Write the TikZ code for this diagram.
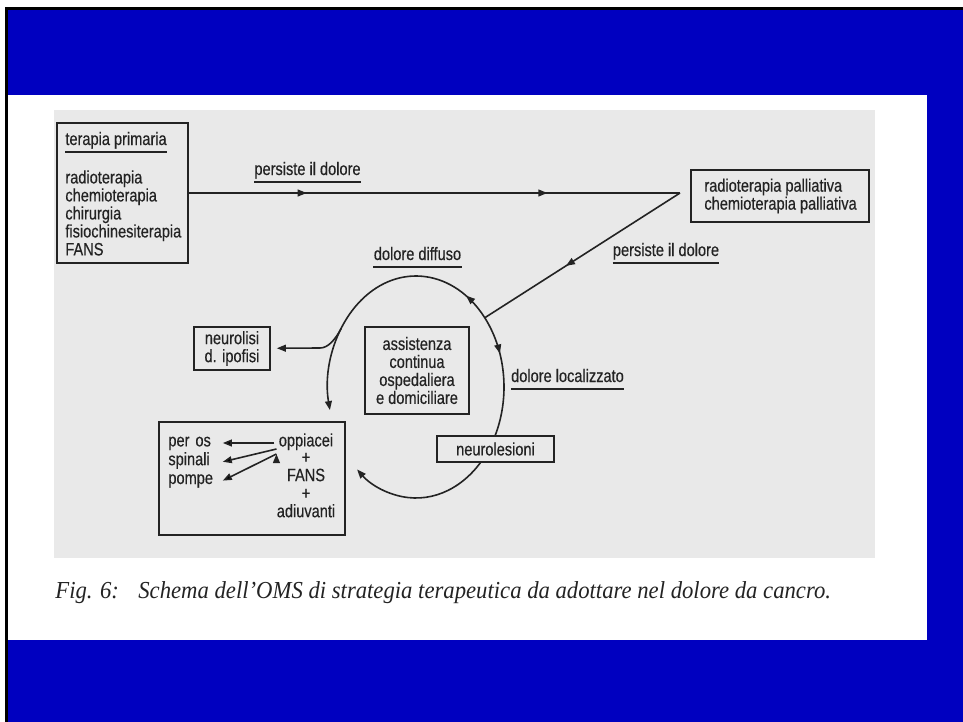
\documentclass[tikz,border=0pt]{standalone}
\usepackage{fontspec}
\newfontfamily\diagfamily{Liberation Sans}[FakeStretch=0.81, FakeBold=0.4]
\newfontfamily\capfamily{Liberation Serif}[FakeStretch=0.93]
\newcommand\diagfont{\diagfamily\fontsize{9}{9}\selectfont}
\usetikzlibrary{positioning}
\usetikzlibrary{arrows.meta}
\usetikzlibrary{decorations.markings}
\definecolor{slideblue}{RGB}{0,0,192}
\definecolor{scanbg}{RGB}{233,233,233}
\definecolor{ink}{RGB}{35,35,35}

\begin{document}
\begin{tikzpicture}[x=0.5pt, y=-0.5pt,
		every node/.style={text=ink, font=\diagfont},
		box/.style={draw=ink, line width=0.8pt, inner sep=0pt, align=center},
		ulbl/.style={inner xsep=0pt, inner ysep=1.5pt, text height=6.5pt, text depth=1.8pt, anchor=south},
		item/.style={inner sep=0pt, text height=6.2pt, text depth=2.8pt, text width=27pt, align=left, anchor=west},
		line/.style={draw=ink, line width=0.8pt},
		tip/.style={line, -{Triangle[length=4.5pt, width=3.4pt]}},
		midtip/.style={postaction={decorate, decoration={markings,
			mark=at position #1 with {\arrow{Triangle[length=4.5pt, width=3.4pt]}}}}}]
		\useasboundingbox (0,0) rectangle (963,722);
		% slide background
		\fill[white] (0,0) rectangle (963,722);
		\fill[black] (5,7) rectangle (963,722);
		\fill[slideblue] (8,10) rectangle (963,722);
		\fill[white] (8,95) rectangle (927,640);
		\fill[scanbg] (54,110) rectangle (875,558);

		% boxes
		\node [box, minimum width=65.5pt, minimum height=70pt] (terapia) at (122.5,193) {};
		\node [ulbl, anchor=south west] (terprim) at (65,152) {terapia primaria};
		\node [inner sep=0pt, align=left, anchor=west] (terlist) at (65,213)
			{radioterapia\\chemioterapia\\chirurgia\\fisiochinesiterapia\\FANS};
		\node [box, minimum width=89pt, minimum height=26pt] (palliativa) at (780,196) {};
		\node [inner sep=0pt, align=left, anchor=west] (palltxt) at (704,196)
			{radioterapia palliativa\\chemioterapia palliativa};
		\node [box, minimum width=38pt, minimum height=21.5pt] (neurolisi) at (232,348.5)
			{neurolisi\\d. ipofisi};
		\node [box, minimum width=52pt, minimum height=43.5pt] (assistenza) at (417,370.5)
			{assistenza\\continua\\ospedaliera\\e domiciliare};
		\node [box, minimum width=93pt, minimum height=56.5pt] (farmaci) at (252,478.5) {};
		\node [item] (peros) at (168,443) {per os};
		\node [item, below=0pt of peros] (spinali) {spinali};
		\node [item, below=0pt of spinali] (pompe) {pompe};
		\node [inner sep=0pt, text height=6.2pt, text depth=2.8pt] (oppiacei) at (306,443) {oppiacei};
		\node [inner sep=0pt, align=center, below=0pt of oppiacei] (adiuvanti) {+\\FANS\\+\\adiuvanti};

		% labels
		\node [ulbl] (pd1) at (307.5,182) {persiste il dolore};
		\node [ulbl] (pd2) at (666,263) {persiste il dolore};
		\node [ulbl] (diffuso) at (417.5,267) {dolore diffuso};
		\node [ulbl] (localizzato) at (567.5,389) {dolore localizzato};
		\foreach \n in {terprim, pd1, pd2, diffuso, localizzato}
			\draw [ink, line width=0.7pt] (\n.south west) -- (\n.south east);

		% cycle
		\coordinate (apex) at (680,193);
		\coordinate (ctr) at (416,387);
		\coordinate (join) at ([shift={(38.6:44pt and 55.5pt)}]ctr);
		\coordinate (brk) at ([shift={(148:44pt and 55.5pt)}]ctr);
		\coordinate (nlbend) at (320,348);
		\coordinate (lowin) at ([shift={(-35:44pt and 55.5pt)}]ctr);

		\path [line, midtip=0.24, midtip=0.73] (terapia.east) -- (apex);
		\path [line, midtip=0.585] (apex) -- (join);
		\draw [tip, midtip=0.11] (join) arc[start angle=38.6, end angle=192, x radius=44pt, y radius=55.5pt];
		\draw [line, midtip=0.3] (join) arc[start angle=38.6, end angle=-30, x radius=44pt, y radius=55.5pt];
		\draw [tip] (lowin) arc[start angle=-35, end angle=-132, x radius=44pt, y radius=55.5pt];
		\draw [tip, shorten >=3pt] (brk) .. controls (335,340) and (328,348) .. (nlbend) -- (neurolisi);
		\node [box, fill=scanbg, minimum width=58.5pt, minimum height=13pt] (neurolesioni) at (495.5,449) {neurolesioni};

		\path [tip]
			([xshift=-2pt]oppiacei.west) edge [] (peros.east)
			([xshift=-1pt, yshift=-3pt]oppiacei.west) edge [] (spinali.east)
			([xshift=-1pt, yshift=-5.5pt]oppiacei.west) edge [] (pompe.east);

		% caption
		\node [anchor=base west, inner sep=0pt, font=\capfamily\itshape\fontsize{12.2}{13}\selectfont] (fig) at (55,598) {Fig. 6:};
		\node [anchor=base west, inner sep=0pt, font=\capfamily\itshape\fontsize{12.2}{13}\selectfont] (caption) at (138,598)
			{Schema dell’OMS di strategia terapeutica da adottare nel dolore da cancro.};
\end{tikzpicture}
\end{document}
